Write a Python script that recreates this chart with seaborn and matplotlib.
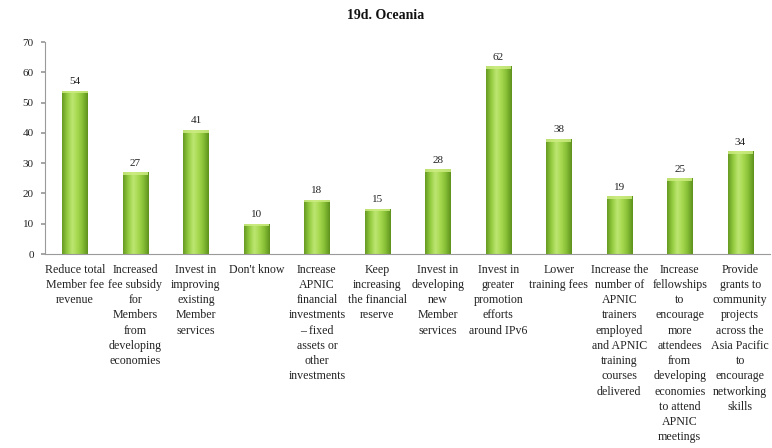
import numpy as np
import pandas as pd
import matplotlib
matplotlib.use("Agg")
import matplotlib.pyplot as plt
from matplotlib.colors import LinearSegmentedColormap
import seaborn as sns

categories = [
    "Reduce total\nMember fee\nrevenue",
    "Increased\nfee subsidy\nfor\nMembers\nfrom\ndeveloping\neconomies",
    "Invest in\nimproving\nexisting\nMember\nservices",
    "Don't know",
    "Increase\nAPNIC\nfinancial\ninvestments\n– fixed\nassets or\nother\ninvestments",
    "Keep\nincreasing\nthe financial\nreserve",
    "Invest in\ndeveloping\nnew\nMember\nservices",
    "Invest in\ngreater\npromotion\nefforts\naround IPv6",
    "Lower\ntraining fees",
    "Increase the\nnumber of\nAPNIC\ntrainers\nemployed\nand APNIC\ntraining\ncourses\ndelivered",
    "Increase\nfellowships\nto\nencourage\nmore\nattendees\nfrom\ndeveloping\neconomies\nto attend\nAPNIC\nmeetings",
    "Provide\ngrants to\ncommunity\nprojects\nacross the\nAsia Pacific\nto\nencourage\nnetworking\nskills",
]
values = [54, 27, 41, 10, 18, 15, 28, 62, 38, 19, 25, 34]
y_ticks = [0, 10, 20, 30, 40, 50, 60, 70]

df = pd.DataFrame({"option": categories, "percent": values})

sns.set_theme(style="white")
plt.rcParams["font.family"] = ["Liberation Serif", "DejaVu Serif"]

fig = plt.figure(figsize=(7.72, 4.48), dpi=100)
ax = fig.add_axes([0.058, 0.433, 0.94, 0.473])

sns.barplot(data=df, x="option", y="percent", ax=ax, width=0.42,
            color="#8cc63f", saturation=1, edgecolor="none")

# cylinder-style shading on each bar
shade = LinearSegmentedColormap.from_list(
    "cyl", ["#679a22", "#94cc40", "#bde672", "#a6d84e", "#86be36", "#5f921e"])
grad = np.linspace(0, 1, 64).reshape(1, -1)
for patch in ax.patches:
    x0, y0 = patch.get_x(), patch.get_y()
    w, h = patch.get_width(), patch.get_height()
    im = ax.imshow(grad, cmap=shade, aspect="auto",
                   extent=[x0, x0 + w, y0, y0 + h], zorder=2)
    im.set_clip_path(patch)
    # light cap at the top of the bar
    ax.fill_between([x0, x0 + w], y0 + h - 0.9, y0 + h,
                    color="#cdec82", alpha=0.85, zorder=3, linewidth=0)

ax.set_xlim(-0.5, len(categories) - 0.5)
ax.set_ylim(0, 70)
ax.set_yticks(y_ticks)
ax.set_yticklabels([str(t) for t in y_ticks], fontsize=8, color="#222222")
ax.set_xlabel("")
ax.set_ylabel("")
ax.set_xticks(range(len(categories)))
ax.set_xticklabels(categories, fontsize=8.6, color="#222222", linespacing=1.36,
                   va="top")
ax.tick_params(axis="x", length=0, pad=7)
ax.set_xticks(np.arange(-0.5, len(categories), 1.0), minor=True)
ax.tick_params(axis="x", which="minor", length=3, color="#9a9a9a", direction="out")
ax.tick_params(axis="y", length=3, color="#9a9a9a", direction="out", left=True, pad=5)

for s in ["top", "right"]:
    ax.spines[s].set_visible(False)
for s in ["left", "bottom"]:
    ax.spines[s].set_color("#9a9a9a")
    ax.spines[s].set_linewidth(0.8)

for i, v in enumerate(values):
    ax.text(i, v + 1.5, str(v), ha="center", va="bottom", fontsize=8,
            color="#222222")

fig.text(0.5, 0.965, "19d. Oceania", ha="center", va="center",
         fontsize=10, fontweight="bold", color="#111111")

fig.savefig("out.png", dpi=100)
